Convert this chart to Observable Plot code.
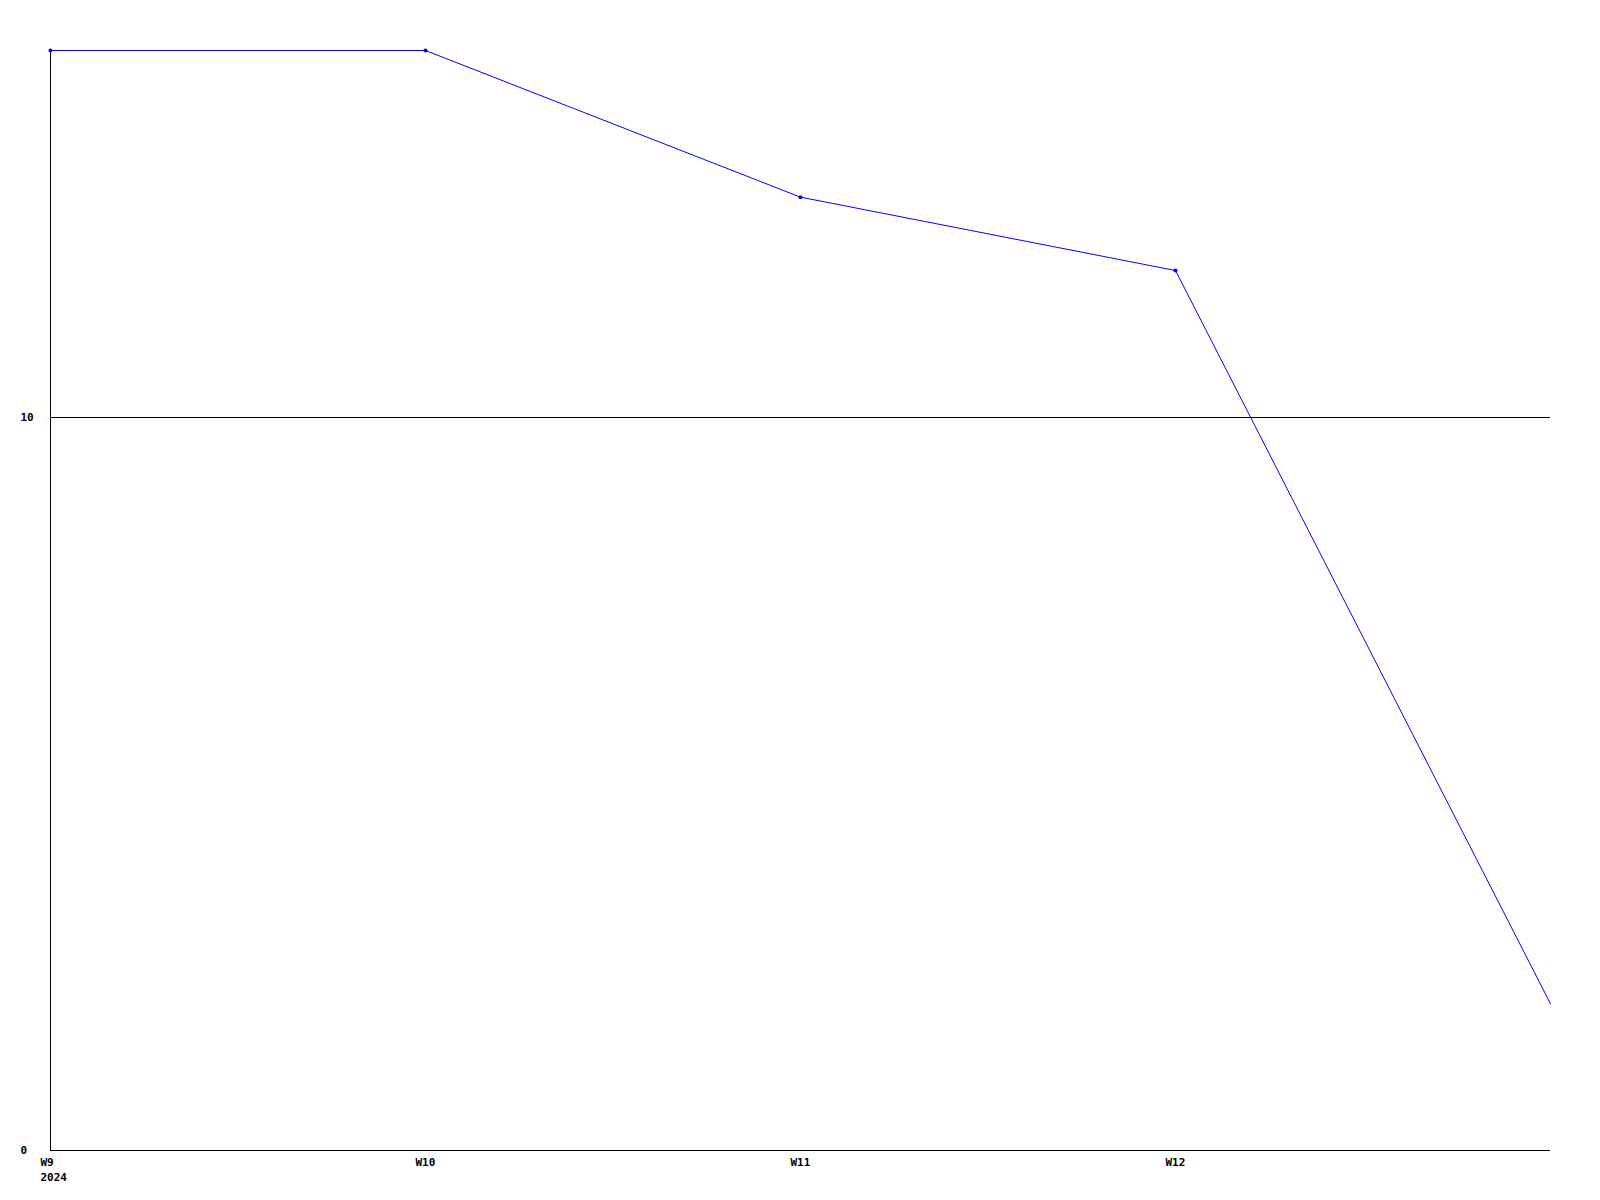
<!DOCTYPE html>
<html>
<head>
<meta charset="utf-8">
<script src="https://cdn.jsdelivr.net/npm/d3@7"></script>
<script src="https://cdn.jsdelivr.net/npm/@observablehq/plot@0.6"></script>
<style>
  html, body { margin: 0; padding: 0; background: #fff; }
  #chart { width: 1600px; height: 1200px; }
</style>
</head>
<body>
<div id="chart"></div>
<script>
const weeks = ["W9", "W10", "W11", "W12", "W13"];
const values = [15, 15, 13, 12, 2];
const xTickLabels = ["W9", "W10", "W11", "W12"];
const yearLabel = "2024";
const yTicks = [0, 10];

const data = weeks.map((w, i) => ({week: w, value: values[i], i}));

const chart = Plot.plot({
  width: 1600,
  height: 1200,
  marginLeft: 50,
  marginRight: 50,
  marginTop: 50,
  marginBottom: 50,
  style: {fontFamily: "'DejaVu Sans Mono', monospace", fontSize: "11px", fontWeight: "bold", background: "#fff", color: "#000"},
  x: {type: "point", domain: weeks, padding: 0},
  y: {domain: [0, 15], nice: false},
  marks: [
    Plot.ruleY([10], {stroke: "#000", strokeWidth: 1, shapeRendering: "crispEdges"}),
    Plot.ruleY([0], {stroke: "#000", strokeWidth: 1, shapeRendering: "crispEdges"}),
    Plot.ruleX([weeks[0]], {y1: 0, y2: 15, stroke: "#000", strokeWidth: 1, shapeRendering: "crispEdges"}),
    Plot.axisY({ticks: yTicks, tickSize: 0, tickPadding: 30, textAnchor: "start", label: null, fontSize: 11, fontWeight: "bold"}),
    Plot.axisX({ticks: xTickLabels, tickSize: 0, tickPadding: 5, textAnchor: "start", dx: -10, lineHeight: 1.36, label: null,
      tickFormat: d => d === weeks[0] ? d + "\n" + yearLabel : d, fontSize: 11, fontWeight: "bold"}),
    Plot.line(data, {x: "week", y: "value", stroke: "#0000ff", strokeWidth: 1}),
    Plot.dot(data.filter(d => d.i < weeks.length - 1), {x: "week", y: "value", r: 2, fill: "#0000ff", stroke: "none"})
  ]
});
document.getElementById("chart").appendChild(chart);
</script>
</body>
</html>
